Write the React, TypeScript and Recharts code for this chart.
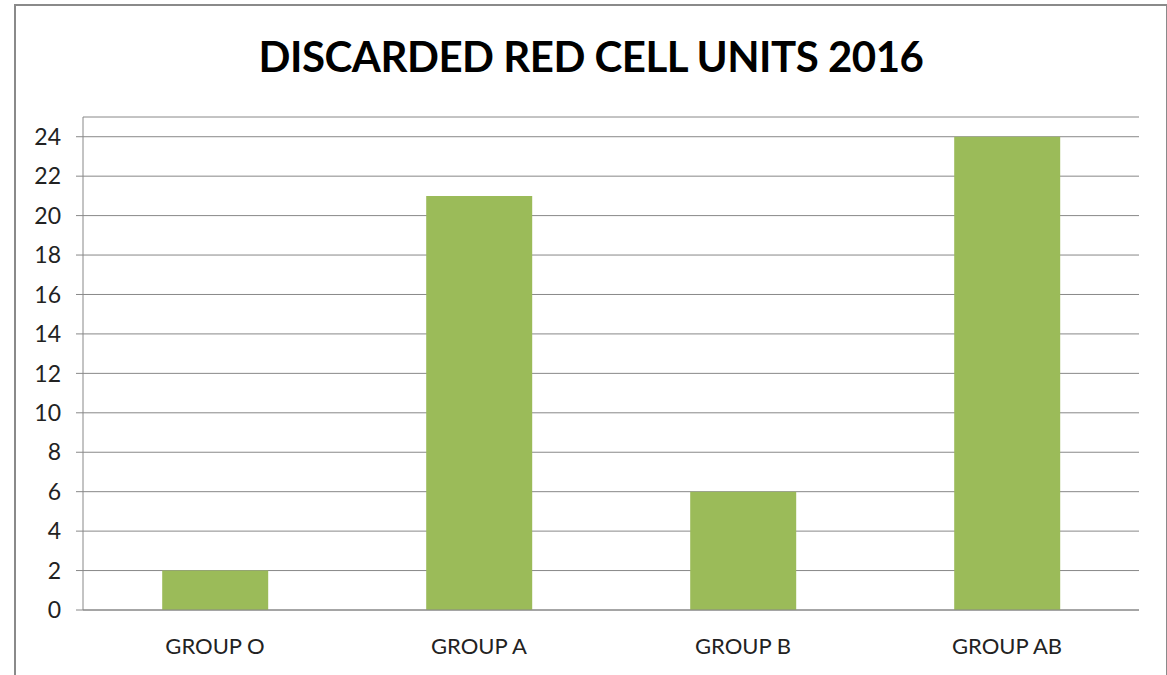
import React from 'react';
import { BarChart, Bar, XAxis, YAxis, CartesianGrid } from 'recharts';

const groups = ['GROUP O', 'GROUP A', 'GROUP B', 'GROUP AB'];
const discarded = [2, 21, 6, 24];
const yTicks = [0, 2, 4, 6, 8, 10, 12, 14, 16, 18, 20, 22, 24];
const boundaryTicks = [0, 1, 2, 3, 4];

const data = groups.map((g, i) => ({ group: g, units: discarded[i], pos: i + 0.5 }));

const FONT = 'Lato, "Open Sans", sans-serif';
const GRID = '#888888';

const App: React.FC = () => {
  return (
    <div style={{ position: 'relative', width: 1167, height: 675, background: '#fff', fontFamily: FONT, overflow: 'hidden' }}>
      <style>{`body{margin:0}`}</style>
      <div
        style={{
          position: 'absolute',
          left: 14,
          top: 4,
          width: 1150,
          height: 680,
          borderLeft: '2px solid #8a8a8a',
          borderTop: '2px solid #8a8a8a',
          borderRight: '2px solid #8a8a8a',
        }}
      />
      <div
        style={{
          position: 'absolute',
          left: 0,
          width: 1182,
          top: 31,
          textAlign: 'center',
          fontSize: 42,
          fontWeight: 700,
          color: '#000',
          letterSpacing: -0.5,
        }}
      >
        DISCARDED RED CELL UNITS 2016
      </div>
      <div style={{ position: 'absolute', left: 0, top: 0 }}>
        <BarChart
          width={1167}
          height={675}
          data={data}
          margin={{ top: 117, right: 28, bottom: 0, left: 0 }}
          barCategoryGap="30%"
        >
          <CartesianGrid vertical={false} stroke={GRID} strokeWidth={1} />
          <XAxis
            dataKey="pos"
            xAxisId="a-edge"
            type="number"
            domain={[0, 4]}
            ticks={boundaryTicks}
            tick={false}
            tickSize={7}
            tickLine={{ stroke: GRID }}
            axisLine={{ stroke: GRID }}
            height={1}
          />
          <XAxis
            dataKey="group"
            xAxisId="b-cat"
            axisLine={false}
            tickLine={false}
            tickSize={0}
            tick={{ fontSize: 22, fill: '#222', fontFamily: FONT }}
            tickMargin={27}
            height={64}
          />
          <YAxis
            domain={[0, 25]}
            ticks={yTicks}
            width={83}
            tickSize={7}
            tickMargin={15}
            interval={0}
            axisLine={{ stroke: GRID }}
            tickLine={{ stroke: GRID }}
            tick={{ fontSize: 23, fill: '#222', fontFamily: FONT }}
          />
          <Bar dataKey="units" xAxisId="b-cat" fill="#9BBB59" isAnimationActive={false} />
        </BarChart>
      </div>
    </div>
  );
};

export default App;
